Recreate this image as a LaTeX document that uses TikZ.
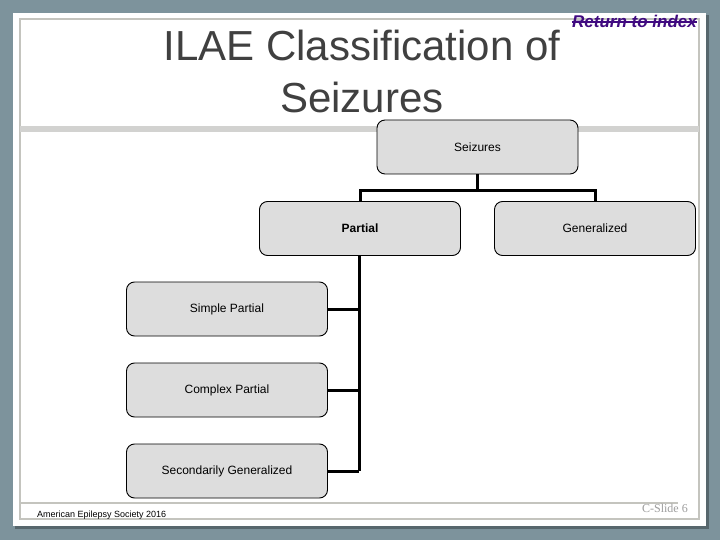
\documentclass[tikz,border=0pt]{standalone}
\usepackage{fontspec}
\setmainfont{Liberation Sans}
\newfontfamily\serifslide{Liberation Serif}
\definecolor{slate}{HTML}{7D939C}
\definecolor{framegray}{HTML}{C4C4BE}
\definecolor{bandgray}{HTML}{D2D2D0}
\definecolor{boxfill}{HTML}{DDDDDD}
\definecolor{titlegray}{HTML}{404040}
\definecolor{linkpurple}{HTML}{400A80}
\begin{document}
\begin{tikzpicture}[x=1pt,y=-1pt,
  orgbox/.style={draw=black,line width=0.9pt,fill=boxfill,rounded corners=8pt,
    minimum width=201pt,minimum height=54pt,inner sep=0pt,font=\fontsize{12}{14}\selectfont},
  conn/.style={line width=3pt,black}]
\useasboundingbox (0,0) rectangle (720,540);
% background
\fill[slate] (0,0) rectangle (720,540);
\fill[slate!70!black] (15,15) rectangle (709,529);
\fill[white] (13,13) rectangle (706,526);
% inner frame
\draw[framegray,line width=2pt] (20,19) rectangle (699,519);
\fill[bandgray] (20,126) rectangle (699,132);
\draw[framegray,line width=1.5pt] (20,503) -- (678,503);
% title
\node[text=titlegray,font=\fontsize{42}{52}\selectfont,align=center] (title) at (362,71)
  {ILAE Classification of\\Seizures};
\node[text=linkpurple,font=\fontsize{17}{19}\selectfont\bfseries\itshape,anchor=east,inner sep=0pt] (ret) at (697,21.5) {Return to index};
\draw[linkpurple,line width=1.3pt] (ret.west|-0,22) -- (ret.east|-0,22);
% boxes
\node[orgbox] (seiz) at (477.5,147) {Seizures};
\node[orgbox] (part) at (360,228.5) {\bfseries Partial};
\node[orgbox] (gen) at (595,228.5) {Generalized};
\node[orgbox] (simple) at (227,309) {Simple Partial};
\node[orgbox] (complex) at (227,390) {Complex Partial};
\node[orgbox] (second) at (227,471) {Secondarily Generalized};
% connectors
\coordinate (jt) at (477.5,191);
\draw[conn] (seiz.south) -- (jt);
\draw[conn] (part.north) -- (part.north|-jt) -- (gen.north|-jt) -- (gen.north);
\coordinate (pbot) at (359,471);
\draw[conn] (part.south-|pbot) -- (pbot);
\draw[conn] (simple.east) -- (simple.east-|pbot);
\draw[conn] (complex.east) -- (complex.east-|pbot);
\draw[conn] (second.east) -- (second.east-|pbot);
% footer
\node[anchor=west,inner sep=0pt,font=\fontsize{9}{10}\selectfont] (aes) at (37,515) {American Epilepsy Society 2016};
\node[anchor=east,inner sep=0pt,text=black!38,font=\serifslide\fontsize{12}{13}\selectfont] (slide) at (688,508) {C-Slide 6};
\end{tikzpicture}
\end{document}
